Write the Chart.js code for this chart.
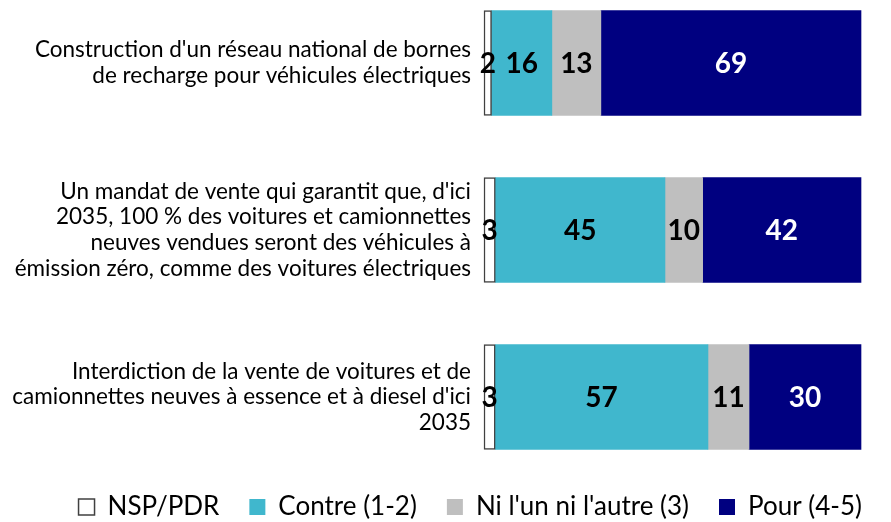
<!DOCTYPE html>
<html>
  <head>
    <meta name="viewport" content="width=device-width" charset="utf-8">
    <title>Vehicules electriques</title>
    <script src="https://cdn.jsdelivr.net/npm/chart.js@4/dist/chart.umd.min.js"></script>
    <style>
      html, body { margin: 0; padding: 0; background: #fff; }
      #wrap { width: 891px; height: 522px; }
    </style>
  </head>
  <body>
    <div id="wrap"><canvas id="myCanvas"></canvas></div>
    <script>
// categories (multi-line labels)
var categories = [
    ["Construction d'un réseau national de bornes", "de recharge pour véhicules électriques"],
    ["Un mandat de vente qui garantit que, d'ici", "2035, 100 % des voitures et camionnettes", "neuves vendues seront des véhicules à", "émission zéro, comme des voitures électriques"],
    ["Interdiction de la vente de voitures et de", "camionnettes neuves à essence et à diesel d'ici", "2035"]
]

var seriesNames = ["NSP/PDR", "Contre (1-2)", "Ni l'un ni l'autre (3)", "Pour (4-5)"]
var nsp    = [2, 3, 3]
var contre = [16, 45, 57]
var neutre = [13, 10, 11]
var pour   = [69, 42, 30]

var FONT = "Lato, 'Open Sans', sans-serif"

var colors = ['#ffffff', '#40B7CD', '#BFBFBF', '#000080']
var values = [nsp, contre, neutre, pour]

// rows are drawn as 100% stacks (the rounded values of a row can add up to 101)
var totals = categories.map((c, j) => values.reduce((s, v) => s + v[j], 0))

// draws the value in the middle of each bar segment
var valueLabels = {
    id: 'valueLabels',
    afterDatasetsDraw(chart) {
        let ctx = chart.ctx
        ctx.save()
        ctx.font = "bold 28px " + FONT
        ctx.textAlign = 'center'
        ctx.textBaseline = 'middle'
        chart.data.datasets.forEach((ds, i) => {
            chart.getDatasetMeta(i).data.forEach((bar, j) => {
                let mid = (bar.x + bar.base) / 2
                ctx.fillStyle = i == 3 ? '#ffffff' : '#000000'
                ctx.fillText(String(values[i][j]), mid, bar.y + 1)
            })
        })
        ctx.restore()
    }
}

// pushes the legend to the right edge of the plot
var legendShift = {
    id: 'legendShift',
    afterLayout(chart) {
        chart.legend.left += 31
        chart.legend.right += 31
    }
}

var myChart = new Chart(document.getElementById('myCanvas'), {
    type: 'bar',
    data: {
        labels: categories,
        datasets: values.map((v, i) => ({
            label: seriesNames[i],
            data: v.map((x, j) => x / totals[j] * 100),
            backgroundColor: colors[i],
            borderColor: i == 0 ? '#404040' : colors[i],
            borderWidth: i == 0 ? 1.5 : 0,
            borderSkipped: false,
            barThickness: 105,
            clip: false
        }))
    },
    options: {
        indexAxis: 'y',
        responsive: true,
        maintainAspectRatio: false,
        animation: false,
        layout: { padding: { top: 63, right: 30, bottom: -8, left: 0 } },
        scales: {
            x: {
                stacked: true,
                min: 0,
                max: 100,
                display: true,
                ticks: { display: false },
                grid: { display: false },
                border: { display: false },
                afterFit(scale) { scale.height = 67 }
            },
            y: {
                stacked: true,
                offset: false,
                grid: { display: false },
                border: { display: false },
                ticks: {
                    color: '#000000',
                    padding: 5,
                    font: { family: FONT, size: 22.5, lineHeight: 1.14 }
                },
                afterFit(scale) { scale.width = 484 }
            }
        },
        plugins: {
            tooltip: { enabled: false },
            legend: {
                position: 'bottom',
                align: 'end',
                labels: {
                    color: '#000000',
                    boxWidth: 16,
                    boxHeight: 16,
                    padding: 30,
                    font: { family: FONT, size: 26 }
                }
            }
        }
    },
    plugins: [valueLabels, legendShift]
})
    </script>
  </body>
</html>
